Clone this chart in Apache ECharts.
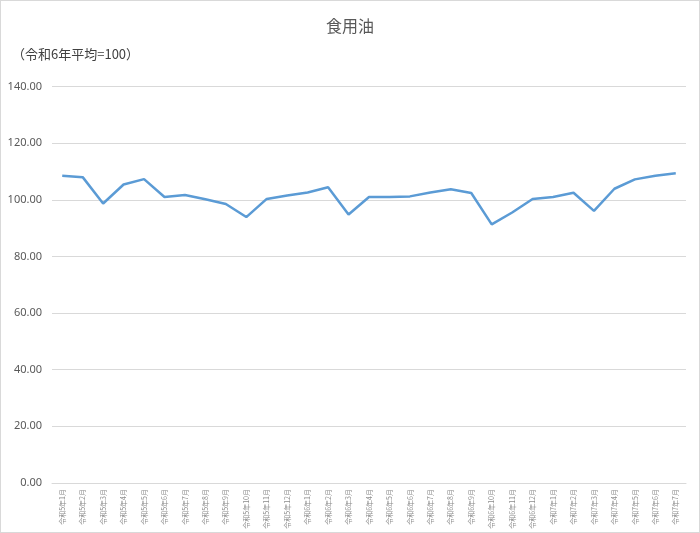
<!DOCTYPE html>
<html>
<head>
<meta charset="utf-8">
<script src="https://cdn.jsdelivr.net/npm/echarts@6/dist/echarts.min.js"></script>
<style>
  html, body { margin: 0; padding: 0; background: #fff; }
  #chart { width: 698px; height: 531px; border: 1px solid #d9d9d9; }
</style>
</head>
<body>
<div id="chart"></div>
<script>
// 月ラベル
const months = [
  '令和5年1月','令和5年2月','令和5年3月','令和5年4月','令和5年5月','令和5年6月',
  '令和5年7月','令和5年8月','令和5年9月','令和5年10月','令和5年11月','令和5年12月',
  '令和6年1月','令和6年2月','令和6年3月','令和6年4月','令和6年5月','令和6年6月',
  '令和6年7月','令和6年8月','令和6年9月','令和6年10月','令和6年11月','令和6年12月',
  '令和7年1月','令和7年2月','令和7年3月','令和7年4月','令和7年5月','令和7年6月','令和7年7月'
];

// 食用油 指数
const oilIndex = [
  108.5, 108.0, 98.7, 105.4, 107.3, 101.0,
  101.7, 100.2, 98.5, 93.9, 100.3, 101.5,
  102.6, 104.4, 94.8, 101.0, 101.0, 101.2,
  102.6, 103.7, 102.4, 91.3, 95.5, 100.3,
  101.0, 102.5, 96.1, 103.9, 107.2, 108.5, 109.4
];

const yTicks = { min: 0, max: 140, interval: 20 };

const chart = echarts.init(document.getElementById('chart'));
chart.setOption({
  animation: false,
  title: [
    {
      text: '食用油',
      left: 'center',
      top: 12,
      textStyle: { color: '#595959', fontSize: 16, fontWeight: 'normal', fontFamily: 'Noto Sans CJK JP' }
    },
    {
      text: '（令和6年平均=100）',
      left: 6,
      top: 42,
      textStyle: { color: '#404040', fontSize: 13, fontWeight: 'normal', fontFamily: 'Noto Sans CJK JP' }
    }
  ],
  grid: { left: 51, right: 13, top: 85.5, bottom: 49, containLabel: false },
  xAxis: {
    type: 'category',
    data: months,
    boundaryGap: true,
    axisLine: { lineStyle: { color: '#d9d9d9' } },
    axisTick: { show: false },
    axisLabel: {
      rotate: 90,
      interval: 0,
      margin: 6,
      fontSize: 7,
      color: '#8c8c8c',
      fontFamily: 'Noto Sans CJK JP'
    }
  },
  yAxis: {
    type: 'value',
    min: yTicks.min,
    max: yTicks.max,
    interval: yTicks.interval,
    axisLine: { show: false },
    axisTick: { show: false },
    axisLabel: {
      margin: 10,
      fontSize: 11,
      color: '#595959',
      fontFamily: 'Noto Sans',
      formatter: v => v.toFixed(2)
    },
    splitLine: { lineStyle: { color: '#d9d9d9' } }
  },
  series: [{
    name: '食用油',
    type: 'line',
    data: oilIndex,
    symbol: 'none',
    lineStyle: { color: '#5b9bd5', width: 2.5 }
  }]
});
</script>
</body>
</html>
